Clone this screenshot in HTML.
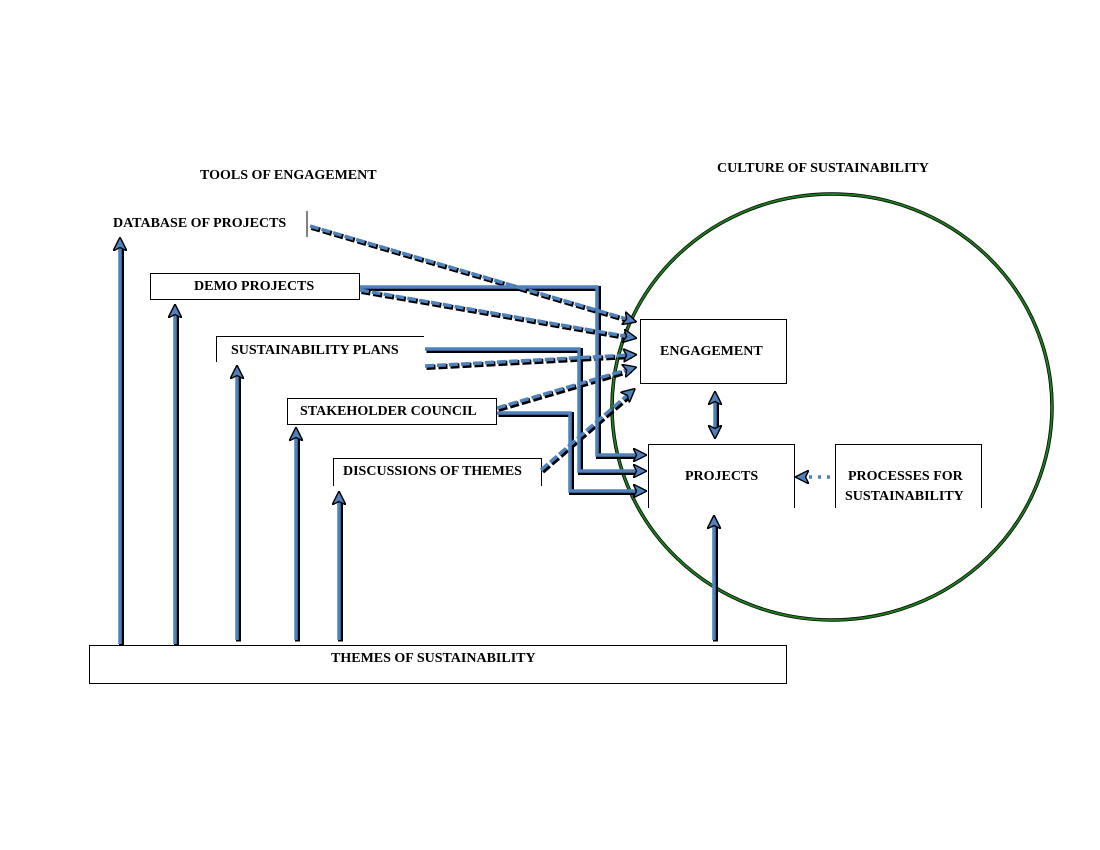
<!DOCTYPE html>
<html><head><style>
body{margin:0;background:#fff;}
svg{display:block;}
text{font-family:"Liberation Serif",serif;font-weight:bold;font-size:14px;fill:#000;}
</style></head><body>
<svg width="1100" height="850" viewBox="0 0 1100 850" xmlns="http://www.w3.org/2000/svg">
<defs>
<marker id="ah" markerWidth="4" markerHeight="4" refX="2" refY="2" orient="auto" markerUnits="strokeWidth">
<path d="M0,0 L4,2 L0,4 L1,2 Z" fill="#4f81bd" stroke="#000" stroke-width="0.4"/>
</marker>
<g id="lines">
<!-- vertical arrows -->
<path d="M120,644 V244"/>
<path d="M175,644 V311"/>
<path d="M237,640 V372"/>
<path d="M296,640 V434"/>
<path d="M339,640 V498"/>
<path d="M714,640 V522"/>
<!-- solid elbows -->
<path d="M360,287 H597 V455 H640"/>
<path d="M425,349 H579 V471 H640"/>
<path d="M497,413 H570 V491 H640"/>
</g>
<g id="dashes" stroke-dasharray="9,3">
<path d="M310,226 L630,320"/>
<path d="M360,290 L630,337"/>
<path d="M425,366 L630,355"/>
<path d="M497,408 L630,369"/>
<path d="M541,470 L630,393"/>
</g>
</defs>
<text x="200" y="179">TOOLS OF ENGAGEMENT</text>
<text x="717" y="172">CULTURE OF SUSTAINABILITY</text>
<ellipse cx="832" cy="407" rx="220" ry="213" fill="none" stroke="#000" stroke-width="3.5"/>
<ellipse cx="832" cy="407" rx="220" ry="213" fill="none" stroke="#1e7b1e" stroke-width="2"/>
<!-- boxes -->
<g fill="#fff" stroke="#000" stroke-width="1">
<line x1="307" y1="211" x2="307" y2="237"/>
<rect x="150.5" y="273.5" width="209" height="26"/>
<path d="M216.5,362 V336.5 H424" fill="none"/>
<rect x="287.5" y="398.5" width="209" height="26"/>
<path d="M333.5,486 V458.5 H541.5 V486" fill="none"/>
<rect x="640.5" y="319.5" width="146" height="64"/>
<path d="M648.5,508 V444.5 H794.5 V508" fill="none"/>
<path d="M835.5,508 V444.5 H981.5 V508" fill="none"/>
<rect x="89.5" y="645.5" width="697" height="38"/>
</g>
<!-- shadows -->
<g transform="translate(1.5,1.5)" fill="none" stroke="#000" stroke-width="5">
<use href="#lines"/><use href="#dashes"/>
</g>
<g fill="none" stroke="#4f81bd" stroke-width="3.5" marker-end="url(#ah)">
<path d="M120,644 V244"/>
<path d="M175,644 V311"/>
<path d="M237,640 V372"/>
<path d="M296,640 V434"/>
<path d="M339,640 V498"/>
<path d="M714,640 V522"/>
<path d="M360,287 H597 V455 H640"/>
<path d="M425,349 H579 V471 H640"/>
<path d="M497,413 H570 V491 H640"/>
<g stroke-dasharray="9,3">
<path d="M310,226 L630,320"/>
<path d="M360,290 L630,337"/>
<path d="M425,366 L630,355"/>
<path d="M497,408 L630,369"/>
<path d="M541,470 L630,393"/>
</g>
</g>
<!-- double arrow -->
<path d="M715,398 V432" fill="none" stroke="#000" stroke-width="5" transform="translate(1.5,1.5)"/>
<path d="M715,398 V432" fill="none" stroke="#4f81bd" stroke-width="3.5" marker-end="url(#ah)" marker-start="url(#ah2)"/>
<defs><marker id="ah2" markerWidth="4" markerHeight="4" refX="2" refY="2" orient="auto-start-reverse" markerUnits="strokeWidth"><path d="M0,0 L4,2 L0,4 L1,2 Z" fill="#4f81bd" stroke="#000" stroke-width="0.4"/></marker></defs>
<!-- dotted from processes -->
<path d="M830,477 L802,477" fill="none" stroke="#4f81bd" stroke-width="3.5" stroke-dasharray="3,6" marker-end="url(#ah)"/>
<text x="113" y="227">DATABASE OF PROJECTS</text>
<text x="194" y="290">DEMO PROJECTS</text>
<text x="231" y="354">SUSTAINABILITY PLANS</text>
<text x="300" y="415">STAKEHOLDER COUNCIL</text>
<text x="343" y="475">DISCUSSIONS OF THEMES</text>
<text x="660" y="355">ENGAGEMENT</text>
<text x="685" y="480">PROJECTS</text>
<text x="848" y="480">PROCESSES FOR</text>
<text x="845" y="500">SUSTAINABILITY</text>
<text x="331" y="662">THEMES OF SUSTAINABILITY</text>
</svg>
</body></html>
